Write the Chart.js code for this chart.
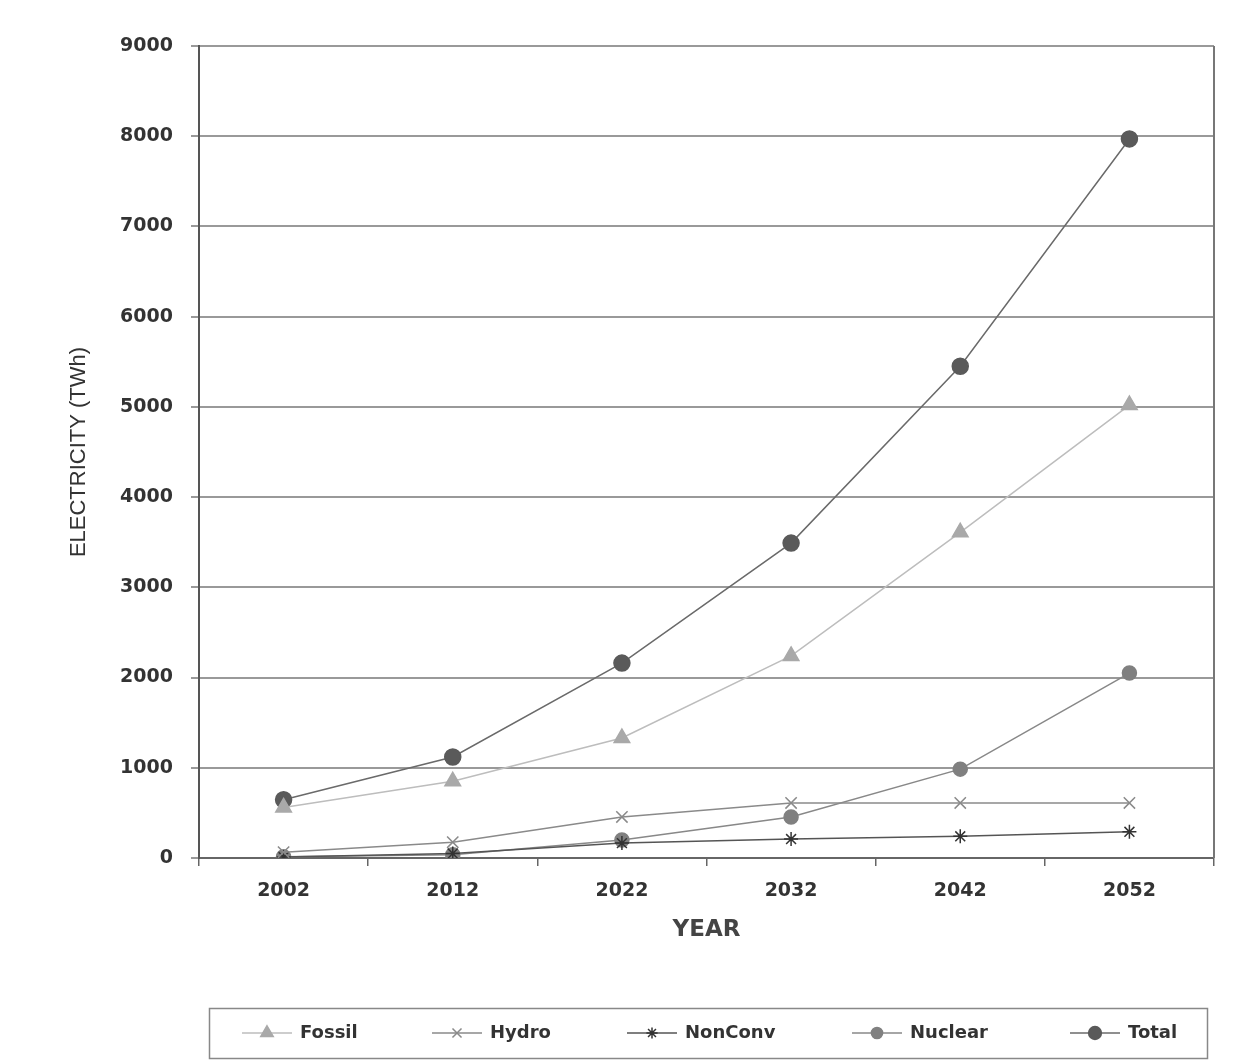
<!DOCTYPE html>
<html>
<head>
<meta charset="utf-8">
<script src="https://cdn.jsdelivr.net/npm/chart.js@4/dist/chart.umd.min.js"></script>
<style>
  html, body { margin: 0; padding: 0; background: #fff; }
  #wrap { width: 1235px; height: 1061px; }
</style>
</head>
<body>
<div id="wrap"><canvas id="elecChart" width="1235" height="1061"></canvas></div>
<script>
// data
const years = ["2002", "2012", "2022", "2032", "2042", "2052"];
const fossil = [560, 850, 1330, 2240, 3610, 5020];
const hydro = [65, 175, 455, 610, 610, 610];
const nonConv = [10, 50, 165, 210, 240, 290];
const nuclear = [15, 35, 200, 455, 985, 2050];
const total = [645, 1120, 2160, 3490, 5450, 7970];
const yTicks = [0, 1000, 2000, 3000, 4000, 5000, 6000, 7000, 8000, 9000];

// where each legend entry's marker sits (x), legend row is boxed
const legendMarkX = [267, 457, 652, 877, 1095];
const WIDE = "DejaVu Sans, Verdana, sans-serif";
const NARROW = "Liberation Sans, Arial, sans-serif";

// right frame line + custom legend (line + marker + bold label, in a box)
const framePlugin = {
    id: "frame",
    afterDraw(chart) {
        const c = chart.ctx;
        const a = chart.chartArea;
        c.save();
        c.strokeStyle = "#777";
        c.lineWidth = 2;
        c.beginPath();
        c.moveTo(a.right, a.top);
        c.lineTo(a.right, a.bottom);
        c.stroke();

        const boxTop = 1008, boxH = 50;
        c.strokeStyle = "#888";
        c.lineWidth = 1.5;
        c.strokeRect(209.5, boxTop + 0.5, 998, boxH);

        const cy = boxTop + boxH / 2;
        chart.data.datasets.forEach((ds, i) => {
            const mx = legendMarkX[i];
            c.strokeStyle = ds.borderColor;
            c.lineWidth = 1.5;
            c.beginPath();
            c.moveTo(mx - 25, cy);
            c.lineTo(mx + 25, cy);
            c.stroke();
            c.fillStyle = ds.backgroundColor;
            c.strokeStyle = ds.backgroundColor;
            Chart.helpers.drawPoint(c, {
                pointStyle: ds.pointStyle,
                radius: ds.pointRadius * 0.8,
                borderWidth: 1.5,
                rotation: 0
            }, mx, cy);
            c.fillStyle = "#333";
            c.font = "bold 18px " + WIDE;
            c.textBaseline = "middle";
            c.textAlign = "left";
            c.fillText(ds.label, mx + 33, cy);
        });
        c.restore();
    }
};

const ctx = document.getElementById("elecChart").getContext("2d");

function series(label, data, color, lineColor, style, radius) {
    return {
        label: label,
        data: data,
        borderColor: lineColor,
        backgroundColor: color,
        pointBackgroundColor: color,
        pointBorderColor: color,
        pointStyle: style,
        pointRadius: radius,
        pointBorderWidth: 1.5,
        borderWidth: 1.5,
        tension: 0,
        fill: false
    };
}

new Chart(ctx, {
    type: "line",
    data: {
        labels: years,
        datasets: [
            series("Fossil", fossil, "#a9a9a9", "#bdbdbd", "triangle", 9),
            series("Hydro", hydro, "#8a8a8a", "#8a8a8a", "crossRot", 8),
            series("NonConv", nonConv, "#333", "#555", "star", 7),
            series("Nuclear", nuclear, "#808080", "#888", "circle", 7),
            series("Total", total, "#5a5a5a", "#6a6a6a", "circle", 8)
        ]
    },
    options: {
        responsive: false,
        animation: false,
        layout: { padding: { left: 66, right: 21, top: 46, bottom: 115 } },
        plugins: {
            tooltip: { enabled: false },
            legend: { display: false }
        },
        scales: {
            x: {
                offset: true,
                afterFit(scale) { scale.height = 88; },
                border: { color: "#666", width: 2 },
                grid: {
                    offset: true,
                    drawOnChartArea: false,
                    drawTicks: true,
                    tickLength: 8,
                    color: "#666",
                    lineWidth: 1.5
                },
                ticks: {
                    padding: 14,
                    color: "#333",
                    font: { family: WIDE, size: 19, weight: "bold" }
                },
                title: {
                    display: true,
                    text: "YEAR",
                    color: "#444",
                    padding: { top: 4, bottom: 2 },
                    font: { family: WIDE, size: 23, weight: "bold" }
                }
            },
            y: {
                min: 0,
                max: 9000,
                afterFit(scale) { scale.width = 133; },
                afterBuildTicks(scale) { scale.ticks = yTicks.map(v => ({ value: v })); },
                border: { color: "#555", width: 2 },
                grid: {
                    color: "#999",
                    lineWidth: 2,
                    tickLength: 8
                },
                ticks: {
                    padding: 18,
                    color: "#333",
                    font: { family: WIDE, size: 19, weight: "bold" },
                    callback: v => String(v)
                },
                title: {
                    display: true,
                    text: "ELECTRICITY (TWh)",
                    color: "#333",
                    padding: { top: 0, bottom: 0 },
                    font: { family: NARROW, size: 22 }
                }
            }
        }
    },
    plugins: [framePlugin]
});
</script>
</body>
</html>
